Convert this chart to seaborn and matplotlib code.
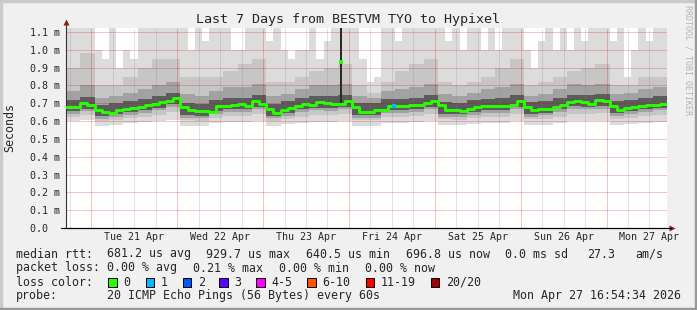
import numpy as np
import pandas as pd
import matplotlib
matplotlib.use("Agg")
import matplotlib.pyplot as plt
import seaborn as sns
from matplotlib.patches import Rectangle

# ---------------- data ----------------
start_time = "2026-04-20 16:54:34"
span_hours = 168
title = "Last 7 Days from BESTVM TYO to Hypixel"
day_labels = ["Tue 21 Apr", "Wed 22 Apr", "Thu 23 Apr", "Fri 24 Apr",
              "Sat 25 Apr", "Sun 26 Apr", "Mon 27 Apr"]
y_tick_values = [0.0, 0.1, 0.2, 0.3, 0.4, 0.5, 0.6, 0.7, 0.8, 0.9, 1.0, 1.1]
y_tick_labels = ["0.0  ", "0.1 m", "0.2 m", "0.3 m", "0.4 m", "0.5 m",
                 "0.6 m", "0.7 m", "0.8 m", "0.9 m", "1.0 m", "1.1 m"]

# median rtt (ms) at hours after start
median_hours = [0, 2, 4, 6, 8, 10, 12, 14, 16, 18, 20, 22, 24, 26, 28, 30, 32, 34,
                36, 38, 40, 42, 44, 46, 48, 50, 52, 54, 56, 58, 60, 62, 64, 66, 68,
                70, 72, 74, 76, 78, 80, 82, 84, 86, 88, 90, 92, 94, 96, 98, 100, 102,
                104, 106, 108, 110, 112, 114, 116, 118, 120, 122, 124, 126, 128, 130,
                132, 134, 136, 138, 140, 142, 144, 146, 148, 150, 152, 154, 156, 158,
                160, 162, 164, 166, 168]
median_ms = [0.681, 0.680, 0.700, 0.690, 0.660, 0.650, 0.648, 0.660, 0.670, 0.676,
             0.680, 0.688, 0.695, 0.705, 0.715, 0.728, 0.680, 0.660, 0.657, 0.658,
             0.650, 0.685, 0.685, 0.688, 0.695, 0.686, 0.715, 0.695, 0.668, 0.648,
             0.660, 0.672, 0.685, 0.695, 0.690, 0.708, 0.700, 0.695, 0.698, 0.710,
             0.680, 0.653, 0.652, 0.662, 0.663, 0.685, 0.684, 0.686, 0.690, 0.690,
             0.700, 0.713, 0.690, 0.662, 0.662, 0.658, 0.670, 0.677, 0.684, 0.686,
             0.685, 0.685, 0.690, 0.715, 0.680, 0.662, 0.667, 0.670, 0.680, 0.692,
             0.705, 0.710, 0.705, 0.695, 0.720, 0.710, 0.685, 0.662, 0.676, 0.677,
             0.686, 0.693, 0.690, 0.697, 0.703]
spike_hour = [76.9]
spike_ms = [0.934]
loss1_hour = [91.6]
loss1_ms = [0.686]

# smoke: highest ping per 2-hour bin (ms)
smoke_max_ms = [1.15, 1.15, 1.15, 1.15, 1.00, 0.95, 1.15, 0.90, 1.00, 0.95,
                1.15, 1.15, 1.15, 1.15, 1.15, 1.15, 1.15, 1.00, 1.15, 1.05,
                1.15, 1.15, 1.15, 1.00, 1.00, 1.15, 1.15, 1.15, 1.05, 1.15,
                1.00, 0.95, 1.00, 1.00, 1.15, 0.95, 1.05, 1.15, 1.15, 1.15,
                1.15, 0.95, 0.82, 0.85, 1.15, 1.15, 1.05, 1.15, 1.15, 1.15,
                1.15, 1.15, 1.15, 1.05, 1.15, 1.00, 1.15, 1.15, 1.00, 1.15,
                1.00, 1.15, 1.15, 1.15, 1.00, 0.90, 1.05, 1.15, 1.00, 1.15,
                1.00, 1.15, 1.05, 1.15, 1.15, 1.15, 1.05, 1.15, 0.85, 1.00,
                1.15, 1.05, 1.15, 1.15]
# smoke percentiles per 4-hour bin (ms)
smoke_p90 = [0.90, 0.98, 0.80, 0.80, 0.85, 0.90, 0.95, 0.95, 0.85, 0.85, 0.85, 0.88,
             0.92, 0.95, 0.82, 0.82, 0.85, 0.88, 0.90, 0.92, 0.80, 0.76, 0.82, 0.88,
             0.92, 0.95, 0.82, 0.80, 0.82, 0.85, 0.90, 0.95, 0.80, 0.82, 0.85, 0.88,
             0.90, 0.92, 0.80, 0.80, 0.85, 0.85]
smoke_p80 = [0.77, 0.80, 0.73, 0.74, 0.76, 0.78, 0.80, 0.82, 0.75, 0.74, 0.77, 0.79,
             0.79, 0.81, 0.74, 0.75, 0.78, 0.80, 0.80, 0.81, 0.74, 0.73, 0.77, 0.78,
             0.79, 0.81, 0.75, 0.74, 0.76, 0.78, 0.79, 0.81, 0.74, 0.75, 0.78, 0.81,
             0.80, 0.81, 0.75, 0.76, 0.78, 0.79]
smoke_p70 = [0.720, 0.735, 0.692, 0.702, 0.715, 0.725, 0.740, 0.760, 0.700, 0.695,
             0.720, 0.730, 0.730, 0.745, 0.695, 0.710, 0.730, 0.740, 0.738, 0.745,
             0.700, 0.700, 0.725, 0.726, 0.732, 0.745, 0.705, 0.702, 0.716, 0.725,
             0.727, 0.745, 0.705, 0.712, 0.730, 0.748, 0.745, 0.750, 0.710, 0.720,
             0.732, 0.740]
smoke_p30 = [0.655, 0.670, 0.627, 0.637, 0.650, 0.660, 0.675, 0.695, 0.635, 0.630,
             0.655, 0.665, 0.665, 0.680, 0.630, 0.645, 0.665, 0.675, 0.673, 0.680,
             0.635, 0.635, 0.660, 0.661, 0.667, 0.680, 0.640, 0.637, 0.651, 0.660,
             0.662, 0.680, 0.640, 0.647, 0.665, 0.683, 0.680, 0.685, 0.645, 0.655,
             0.667, 0.675]
smoke_p20 = [0.640, 0.655, 0.612, 0.622, 0.635, 0.645, 0.660, 0.680, 0.620, 0.615,
             0.640, 0.650, 0.650, 0.665, 0.615, 0.630, 0.650, 0.660, 0.658, 0.665,
             0.620, 0.620, 0.645, 0.646, 0.652, 0.665, 0.625, 0.622, 0.636, 0.645,
             0.647, 0.665, 0.625, 0.632, 0.650, 0.668, 0.665, 0.670, 0.630, 0.640,
             0.652, 0.660]
smoke_p10 = [0.625, 0.635, 0.600, 0.605, 0.615, 0.625, 0.635, 0.650, 0.605, 0.600,
             0.620, 0.630, 0.630, 0.640, 0.600, 0.610, 0.625, 0.635, 0.635, 0.640,
             0.605, 0.605, 0.625, 0.625, 0.630, 0.640, 0.610, 0.605, 0.615, 0.625,
             0.625, 0.640, 0.610, 0.612, 0.625, 0.640, 0.640, 0.645, 0.610, 0.620,
             0.630, 0.635]
smoke_min = [0.600, 0.605, 0.575, 0.580, 0.590, 0.595, 0.600, 0.605, 0.575, 0.575,
             0.590, 0.595, 0.595, 0.600, 0.575, 0.585, 0.590, 0.595, 0.595, 0.600,
             0.575, 0.575, 0.590, 0.590, 0.595, 0.600, 0.580, 0.580, 0.585, 0.590,
             0.590, 0.600, 0.580, 0.580, 0.590, 0.600, 0.600, 0.600, 0.580, 0.585,
             0.590, 0.595]
spike_col_hours = [76.6, 77.2]
spike_col_lo = [0.70, 0.70]
spike_col_hi = [1.15, 1.15]

legend_rows = [
    ["median rtt:", "681.2 us avg", "929.7 us max", "640.5 us min", "696.8 us now",
     "0.0 ms sd", "27.3", "am/s"],
    ["packet loss:", "0.00 % avg", "0.21 % max", "0.00 % min", "0.00 % now"],
]
loss_labels = ["0", "1", "2", "3", "4-5", "6-10", "11-19", "20/20"]
loss_colors = ["#26ff00", "#00b8ff", "#0059ff", "#5e00ff", "#ff00ff", "#ff5500",
               "#ff0000", "#a10000"]
probe_text = "20 ICMP Echo Pings (56 Bytes) every 60s"
stamp_text = "Mon Apr 27 16:54:34 2026"

# ---------------- style ----------------
sns.set_style("white")
plt.rcParams["font.family"] = ["DejaVu Sans Mono"]

W, H = 697, 310
fig = plt.figure(figsize=(W / 100, H / 100), dpi=100, facecolor="#f0f0f0")

def fx(px):
    return px / W

def fy(py):
    return 1 - py / H

# border shading
fig.patches.append(Rectangle((0, fy(2)), 1, 2 / H, transform=fig.transFigure,
                             color="#cbcbcb", zorder=0))
fig.patches.append(Rectangle((0, 0), 2 / W, 1, transform=fig.transFigure,
                             color="#cbcbcb", zorder=0))
fig.patches.append(Rectangle((fx(695), 0), 2 / W, 1, transform=fig.transFigure,
                             color="#999999", zorder=0))
fig.patches.append(Rectangle((0, 0), 1, 2 / H, transform=fig.transFigure,
                             color="#999999", zorder=0))

ax_left, ax_right, ax_top, ax_bot = 66, 667, 28, 228
ax = fig.add_axes([fx(ax_left), fy(ax_bot), (ax_right - ax_left) / W,
                   (ax_bot - ax_top) / H])
ax.set_facecolor("white")
px_per_ms = 178.2
ymax = (ax_bot - ax_top) / px_per_ms
ax.set_xlim(0, span_hours)
ax.set_ylim(0, ymax)

# ---------------- smoke ----------------
h2 = np.arange(0, span_hours, 2)
h4 = np.arange(0, span_hours, 4)

def step_fill(edges, lo, hi, color, z=1):
    x = np.append(edges, span_hours)
    lo = np.append(np.asarray(lo, float), lo[-1])
    hi = np.append(np.asarray(hi, float), hi[-1])
    ax.fill_between(x, lo, hi, step="post", color=color, lw=0, zorder=z)

step_fill(h2, np.full(len(h2), 0.75), smoke_max_ms, "#dcdcdc")
step_fill(h4, smoke_min, smoke_p10, "#dcdcdc")
step_fill(h4, smoke_p10, smoke_p90, "#c6c6c6")
step_fill(h4, smoke_p20, smoke_p80, "#a2a2a2")
step_fill(h4, smoke_p30, smoke_p70, "#5c5c5c")
ax.fill_between(spike_col_hours, spike_col_lo, spike_col_hi, color="#2a2a2a",
                lw=0, zorder=1.5)

# ---------------- grid ----------------
t0 = pd.Timestamp(start_time)
first_mid = (t0.normalize() + pd.Timedelta(days=1) - t0) / pd.Timedelta(hours=1)
midnights = [first_mid + 24 * k for k in range(7)]
six_h = [m + d for m in [first_mid - 24] + midnights for d in (6, 12, 18)]
six_h = [v for v in six_h if 0 < v < span_hours]
noons = [m + 12 for m in midnights]

dot = (0, (1, 1))
for v in six_h:
    ax.axvline(v, color="#808080", alpha=0.45, lw=0.72, ls=dot, zorder=2)
for v in midnights:
    ax.axvline(v, color="#d00000", alpha=0.45, lw=0.72, ls=dot, zorder=2)
for v in y_tick_values[1:]:
    ax.axhline(v, color="#d00000", alpha=0.45, lw=0.72, ls=dot, zorder=2,
               xmax=1.003)

# ---------------- median ----------------
df_med = pd.DataFrame({"hour": median_hours, "ms": median_ms})
sns.lineplot(data=df_med, x="hour", y="ms", ax=ax, color="#26ff00", lw=2.1,
             drawstyle="steps-post", estimator=None, legend=False, zorder=3)
sns.scatterplot(x=spike_hour, y=spike_ms, ax=ax, color="#26ff00", marker="s",
                s=8, linewidth=0, zorder=3)
sns.scatterplot(x=loss1_hour, y=loss1_ms, ax=ax, color="#00b8ff", marker="s",
                s=8, linewidth=0, zorder=3.5)

# ---------------- axes ----------------
for s in ("top", "right"):
    ax.spines[s].set_visible(False)
ax.spines["left"].set_color("#333333")
ax.spines["left"].set_linewidth(0.8)
ax.spines["bottom"].set_color("black")
ax.spines["bottom"].set_linewidth(0.8)
ax.plot([-5 / 601, 1.006], [0, 0], transform=ax.transAxes, color="black",
        lw=0.8, clip_on=False, zorder=4)
ax.plot([0, 0], [1, 1.025], transform=ax.transAxes, color="#333333", lw=0.8,
        clip_on=False)
ax.plot([0], [1.03], marker="^", ms=4.5, color="#8b1a1a", transform=ax.transAxes,
        clip_on=False, mec="none")
ax.plot([1.008], [0], marker=">", ms=4.5, color="#8b1a1a", transform=ax.transAxes,
        clip_on=False, mec="none")

ax.set_yticks(y_tick_values)
ax.set_yticklabels(y_tick_labels)
ax.set_xticks(noons)
ax.set_xticklabels(day_labels)
ax.set_xticks(six_h, minor=True)
ax.tick_params(axis="y", length=0, pad=4.6, labelsize=7.2)
ax.tick_params(axis="x", which="major", length=0, pad=3.2, labelsize=7.2)
ax.tick_params(axis="x", which="minor", length=2, width=0.7, color="#d08080",
               direction="out")
ax.set_xlabel("")
ax.set_ylabel("")

# ---------------- texts ----------------
fig.text(fx(348), fy(19), title, ha="center", va="center", fontsize=9.6)
fig.text(fx(10), fy(128), "Seconds", rotation=90, ha="center", va="center",
         fontsize=8.4)
fig.text(fx(688), fy(60), "RRDTOOL / TOBI OETIKER", rotation=270, ha="center",
         va="center", fontsize=6, color="#b4b4b4")

fs = 8.4
row1_x = [16, 107, 206.5, 306, 405.5, 505, 587, 635]
for s, x in zip(legend_rows[0], row1_x):
    fig.text(fx(x), fy(254), s, ha="left", va="center", fontsize=fs)
row2_x = [16, 107, 193, 279, 365]
for s, x in zip(legend_rows[1], row2_x):
    fig.text(fx(x), fy(268), s, ha="left", va="center", fontsize=fs)

fig.text(fx(16), fy(282), "loss color:", ha="left", va="center", fontsize=fs)
box_x = [108.3, 145.7, 182.7, 219.3, 256, 307.3, 365.7, 430.7]
for lab, col, bx in zip(loss_labels, loss_colors, box_x):
    fig.patches.append(Rectangle((fx(bx), fy(286.5)), 8.5 / W, 8.5 / H,
                                 transform=fig.transFigure, facecolor=col,
                                 edgecolor="black", lw=0.7))
    fig.text(fx(bx + 15), fy(282), lab, ha="left", va="center", fontsize=fs)

fig.text(fx(16), fy(296), "probe:", ha="left", va="center", fontsize=fs)
fig.text(fx(107), fy(296), probe_text, ha="left", va="center", fontsize=fs)
fig.text(fx(681), fy(296), stamp_text, ha="right", va="center", fontsize=fs)

fig.savefig("out.png", dpi=100, facecolor=fig.get_facecolor())
